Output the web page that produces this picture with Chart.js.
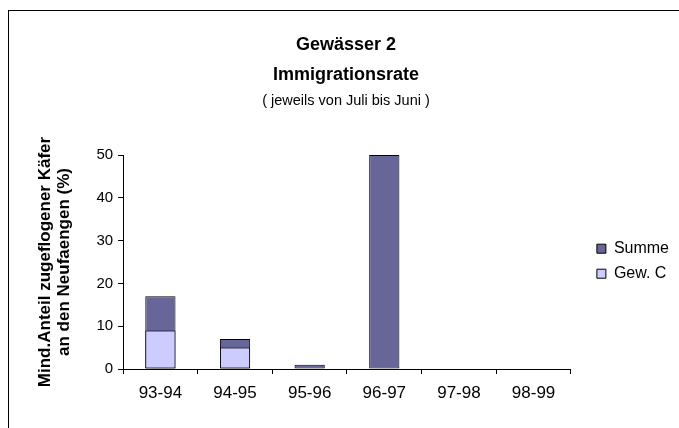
<!DOCTYPE html>
<html>
<head>
<meta charset="utf-8">
<script src="https://cdn.jsdelivr.net/npm/chart.js@4.4.0/dist/chart.umd.min.js"></script>
<style>
  body { margin: 0; background: #fff; }
  #wrap { position: relative; width: 679px; height: 428px; overflow: hidden; }
  #rahmen { position: absolute; left: 8px; top: 10px; width: 720px; height: 480px; border: 1px solid #000; pointer-events: none; }
</style>
</head>
<body>
<div id="wrap">
  <canvas id="chart" width="679" height="428"></canvas>
  <div id="rahmen"></div>
</div>
<script>
var jahre = ['93-94', '94-95', '95-96', '96-97', '97-98', '98-99'];
var summe = [17, 7, 1, 50, 0, 0];
var gewC = [9, 5, 0, 0, 0, 0];
var yTicks = [0, 10, 20, 30, 40, 50];

var schrift = 'Arial, "Liberation Sans", sans-serif';

// Legende etwas nach rechts/unten schieben (wie im Excel-Original)
var legendeVersatz = {
  id: 'legendeVersatz',
  afterLayout: function(chart) {
    var lg = chart.legend;
    lg.left += 17;
    lg.right += 17;
    lg.top += 50;
    lg.bottom += 50;
  }
};

var ctx = document.getElementById('chart').getContext('2d');
var chart = new Chart(ctx, {
  type: 'bar',
  data: {
    labels: jahre,
    datasets: [{
      label: 'Summe',
      data: summe,
      backgroundColor: '#666699',
      borderColor: '#000',
      borderWidth: 1,
      borderSkipped: false,
      grouped: false,
      order: 1
    }, {
      label: 'Gew. C',
      data: gewC,
      backgroundColor: '#ccccff',
      borderColor: '#000',
      borderWidth: 1,
      borderSkipped: false,
      grouped: false,
      order: 0
    }]
  },
  plugins: [legendeVersatz],
  options: {
    responsive: false,
    animation: false,
    devicePixelRatio: 1,
    layout: {
      padding: { top: 10, left: 30, right: 17, bottom: 15.6 }
    },
    datasets: {
      bar: { barPercentage: 0.9, categoryPercentage: 0.45 }
    },
    plugins: {
      title: {
        display: true,
        text: ['Gewässer 2', 'Immigrationsrate'],
        color: '#000',
        font: { family: schrift, size: 18, weight: 'bold', lineHeight: 1.667 },
        padding: { top: 20, bottom: 0 }
      },
      subtitle: {
        display: true,
        text: '( jeweils von Juli bis Juni )',
        color: '#000',
        font: { family: schrift, size: 14.5 },
        padding: { top: 2.3, bottom: 45.3 }
      },
      legend: {
        position: 'right',
        labels: {
          color: '#000',
          font: { family: schrift, size: 16 },
          boxWidth: 9,
          boxHeight: 9,
          padding: 9,
          sort: function(a, b) { return a.datasetIndex - b.datasetIndex; }
        }
      },
      tooltip: { enabled: false }
    },
    scales: {
      x: {
        grid: { display: true, drawOnChartArea: false, offset: true, color: '#000', tickLength: 5 },
        border: { color: '#000' },
        ticks: { color: '#000', font: { family: schrift, size: 17 }, padding: 9 }
      },
      y: {
        min: 0,
        max: 50,
        afterBuildTicks: function(scale) {
          scale.ticks = yTicks.map(function(v) { return { value: v }; });
        },
        grid: { display: true, drawOnChartArea: false, color: '#000', tickLength: 5 },
        border: { color: '#000' },
        ticks: { color: '#000', font: { family: schrift, size: 15 }, padding: 5 },
        title: {
          display: true,
          text: ['Mind.Anteil zugeflogener Käfer', 'an den Neufaengen (%)'],
          color: '#000',
          font: { family: schrift, size: 17, weight: 'bold', lineHeight: 1.1 },
          padding: { top: 6, bottom: 18 }
        }
      }
    }
  }
});
</script>
</body>
</html>
